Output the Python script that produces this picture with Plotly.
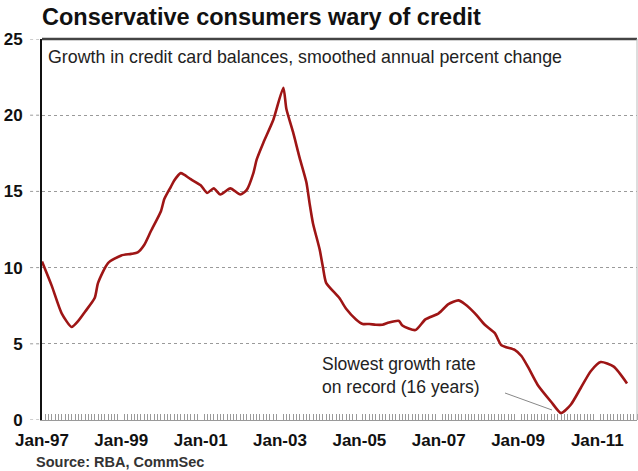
import plotly.graph_objects as go

# Smoothed annual growth in credit card balances (%)
months = [
    "1997-01", "1997-04", "1997-07", "1997-10", "1997-12", "1998-02", "1998-05",
    "1998-06", "1998-09", "1999-01", "1999-04", "1999-06", "1999-08", "1999-10",
    "2000-01", "2000-02", "2000-04", "2000-05", "2000-07", "2000-08", "2000-10",
    "2001-01", "2001-03", "2001-05", "2001-07", "2001-10", "2002-01", "2002-03",
    "2002-05", "2002-06", "2002-08", "2002-11", "2003-02", "2003-03", "2003-05",
    "2003-07", "2003-09", "2003-10", "2003-11", "2004-01", "2004-02", "2004-03",
    "2004-07", "2004-09", "2004-12", "2005-02", "2005-04", "2005-06", "2005-08",
    "2005-10", "2006-01", "2006-02", "2006-06", "2006-09", "2007-01", "2007-04",
    "2007-07", "2007-09", "2007-12", "2008-03", "2008-06", "2008-08", "2008-12",
    "2009-02", "2009-04", "2009-07", "2009-11", "2010-02", "2010-05", "2010-08",
    "2010-11", "2011-02", "2011-06", "2011-10",
]
growth = [
    10.4, 8.8, 7.0, 6.1, 6.5, 7.1, 8.0,
    9.0, 10.3, 10.8, 10.9, 11.0, 11.5, 12.4,
    13.7, 14.5, 15.3, 15.7, 16.2, 16.1, 15.8,
    15.4, 14.9, 15.2, 14.8, 15.2, 14.8, 15.1,
    16.2, 17.1, 18.2, 19.7, 21.8, 20.4, 18.9,
    17.2, 15.6, 14.2, 12.9, 11.2, 10.0, 9.0,
    8.0, 7.3, 6.6, 6.3, 6.3, 6.25, 6.25,
    6.4, 6.5, 6.2, 5.9, 6.6, 7.0, 7.6,
    7.85, 7.6, 7.0, 6.25, 5.7, 4.9, 4.6,
    4.2, 3.5, 2.3, 1.2, 0.45, 1.0, 2.1,
    3.2, 3.8, 3.5, 2.4,
]

y_ticks = [0, 5, 10, 15, 20, 25]
x_start, x_end = "1997-01-01", "2012-01-01"

title_text = "Conservative consumers wary of credit"
subtitle_text = "Growth in credit card balances, smoothed annual percent change"
note_text = "Slowest growth rate<br>on record (16 years)"
source_text = "Source: RBA, CommSec"

FONT = "Liberation Sans, Arial, sans-serif"
LINE_RED = "#9e1515"

fig = go.Figure()
fig.add_trace(go.Scatter(
    x=months, y=growth, mode="lines",
    line=dict(color=LINE_RED, width=2.6, shape="spline", smoothing=0.6),
    hoverinfo="skip", showlegend=False,
))

fig.update_layout(
    width=638, height=471,
    margin=dict(l=42, r=1, t=39, b=51),
    paper_bgcolor="white", plot_bgcolor="white",
    font=dict(family=FONT, color="#111"),
    showlegend=False,
)

fig.update_xaxes(
    type="date", range=[x_start, x_end],
    tick0="1997-01-01", dtick="M24", tickformat="%b-%y",
    showgrid=False, zeroline=False,
    showline=True, linecolor="#9a9a9a", linewidth=1,
    ticks="", ticklabelstandoff=5,
    tickfont=dict(family=FONT, size=17, color="#111", weight="bold"),
    minor=dict(ticks="inside", dtick="M1", tick0="1997-01-01",
               ticklen=6, tickcolor="#9a9a9a", tickwidth=1, showgrid=False),
)
fig.update_yaxes(
    range=[0, 25], tickvals=y_ticks,
    showgrid=True, gridcolor="#9a9a9a", griddash="dot", gridwidth=1,
    zeroline=False,
    showline=True, linecolor="#111", linewidth=2,
    ticks="", ticklabelstandoff=14,
    tickfont=dict(family=FONT, size=17, color="#111", weight="bold"),
)

# Short dotted leaders to the left of the value axis
for v in y_ticks:
    fig.add_shape(type="line", xref="paper", yref="y",
                  x0=-0.02, x1=0, y0=v, y1=v,
                  line=dict(color="#9a9a9a", width=1, dash="dot"))

# Frame: heavy top edge, light right edge
fig.add_shape(type="line", xref="paper", yref="paper", x0=0, x1=1, y0=1, y1=1,
              line=dict(color="#444", width=2.5))
fig.add_shape(type="line", xref="paper", yref="paper", x0=1, x1=1, y0=0, y1=1,
              line=dict(color="#bbbbbb", width=1))

# Leader line from the note to the trough
fig.add_shape(type="line", xref="paper", yref="paper",
              x0=(505 - 42) / 595, y0=(420 - 393) / 381,
              x1=(552 - 42) / 595, y1=(420 - 410) / 381,
              line=dict(color="#888", width=1))

fig.add_annotation(text=title_text, xref="paper", yref="paper",
                   x=(40 - 42) / 595, y=(420 - 17) / 381,
                   xanchor="left", yanchor="middle", showarrow=False,
                   font=dict(family=FONT, size=23.5, color="#111", weight="bold"))
fig.add_annotation(text=subtitle_text, xref="paper", yref="paper",
                   x=(46 - 42) / 595, y=(420 - 57) / 381,
                   xanchor="left", yanchor="middle", showarrow=False,
                   font=dict(family=FONT, size=17.8, color="#222"))
fig.add_annotation(text=note_text, xref="paper", yref="paper",
                   x=(320 - 42) / 595, y=(420 - 375) / 381,
                   xanchor="left", yanchor="middle", align="left", showarrow=False,
                   font=dict(family=FONT, size=17.5, color="#222"))
fig.add_annotation(text=source_text, xref="paper", yref="paper",
                   x=(34 - 42) / 595, y=(420 - 462) / 381,
                   xanchor="left", yanchor="middle", showarrow=False,
                   font=dict(family=FONT, size=14.5, color="#333", weight="bold"))

fig.write_html("out.html")
